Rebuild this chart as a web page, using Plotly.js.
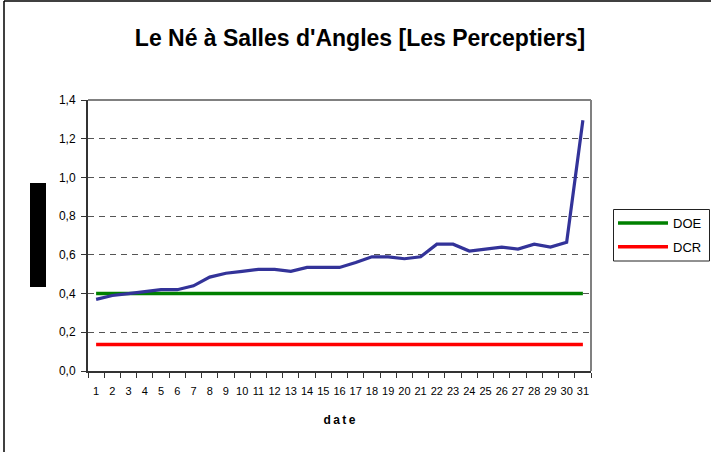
<!DOCTYPE html>
<html>
<head>
<meta charset="utf-8">
<script src="https://cdn.plot.ly/plotly-3.0.1.min.js"></script>
<style>html,body{margin:0;padding:0;background:#fff;}#chart{width:711px;height:452px;}</style>
</head>
<body>
<div id="chart"></div>
<script>
const dates = ['1','2','3','4','5','6','7','8','9','10','11','12','13','14','15','16','17','18','19','20','21','22','23','24','25','26','27','28','29','30','31'];
const debit = [0.37,0.39,0.40,0.41,0.42,0.42,0.44,0.485,0.505,0.515,0.525,0.525,0.515,0.535,0.535,0.535,0.56,0.59,0.59,0.58,0.59,0.655,0.655,0.62,0.63,0.64,0.63,0.655,0.64,0.665,1.295];
const doeValue = 0.40;
const dcrValue = 0.137;
const doe = dates.map(() => doeValue);
const dcr = dates.map(() => dcrValue);
const yTicks = [0,0.2,0.4,0.6,0.8,1.0,1.2,1.4];

const F = '"Liberation Sans", Arial, sans-serif';
const traces = [
  {x: dates, y: doe, type: 'scatter', mode: 'lines', name: 'DOE', legendgroup: 'a',
   line: {color: '#008000', width: 3.5}},
  {x: dates, y: dcr, type: 'scatter', mode: 'lines', name: 'DCR', legendgroup: 'b',
   line: {color: '#ff0000', width: 3.5}},
  {x: dates, y: debit, type: 'scatter', mode: 'lines', name: 'débit', showlegend: false,
   line: {color: '#333399', width: 3.2}}
];
const L = 88, R = 591, T = 100, B = 371;
const W = R - L, H = B - T;
const px = v => (v - L) / W;
const py = v => 1 - (v - T) / H;
const layout = {
  width: 711, height: 452,
  margin: {l: L, r: 711 - R, t: T, b: 452 - B, autoexpand: false},
  paper_bgcolor: '#fff', plot_bgcolor: '#fff',
  separators: ', ',
  font: {family: F, size: 11, color: '#000'},
  title: {text: "<b>Le Né à Salles d'Angles [Les Perceptiers]</b>", font: {family: F, size: 23, color: '#000'},
          x: 360/711, xanchor: 'center', xref: 'container', y: 1 - 38/452, yanchor: 'middle', yref: 'container'},
  xaxis: {type: 'category', range: [-0.5, 30.5], tickson: 'boundaries', ticks: 'outside', ticklen: 5, tickcolor: '#333',
          showline: true, linecolor: '#333', linewidth: 2, showgrid: false, zeroline: false, automargin: false,
          tickfont: {family: F, size: 11, color: '#000'}, tickangle: 0, ticklabelstandoff: 9,
          title: {text: '<b>d\u2009a\u2009t\u2009e</b>', font: {family: F, size: 12, color: '#000'}, standoff: 19},
          fixedrange: true},
  yaxis: {range: [0, 1.4], tickvals: yTicks, tickformat: '.1f', ticks: 'outside', ticklen: 5, tickcolor: '#333',
          showline: true, linecolor: '#333', linewidth: 2, zeroline: false, automargin: false,
          showgrid: true, gridcolor: '#555', griddash: '6px,5px', gridwidth: 1,
          tickfont: {family: F, size: 12, color: '#000'}, ticklabelstandoff: 3, fixedrange: true},
  legend: {x: px(613), xanchor: 'left', y: py(208), yanchor: 'top', borderwidth: 0,
           bgcolor: 'rgba(0,0,0,0)', font: {family: F, size: 13, color: '#000'}, itemwidth: 50, tracegroupgap: 4,
           traceorder: 'grouped'},
  shapes: [
    {type: 'line', xref: 'paper', yref: 'paper', x0: 0, x1: 1, y0: 1, y1: 1, line: {color: '#808080', width: 2}},
    {type: 'line', xref: 'paper', yref: 'paper', x0: 1, x1: 1, y0: 0, y1: 1, line: {color: '#808080', width: 2}},
    {type: 'rect', xref: 'paper', yref: 'paper', x0: px(30), x1: px(46), y0: py(287), y1: py(183),
     fillcolor: '#000', line: {width: 0}},
    {type: 'rect', xref: 'paper', yref: 'paper', x0: px(613.5), x1: px(709.5), y0: py(261), y1: py(209.5),
     fillcolor: 'rgba(0,0,0,0)', line: {color: '#222', width: 1}},
    {type: 'line', xref: 'paper', yref: 'paper', x0: px(4), x1: px(4), y0: py(452), y1: py(1), line: {color: '#000', width: 1.5}},
    {type: 'line', xref: 'paper', yref: 'paper', x0: px(4), x1: px(711), y0: py(1), y1: py(1), line: {color: '#000', width: 1.5}}
  ],
  showlegend: true
};
Plotly.newPlot('chart', traces, layout, {displayModeBar: false, staticPlot: true});
</script>
</body>
</html>
